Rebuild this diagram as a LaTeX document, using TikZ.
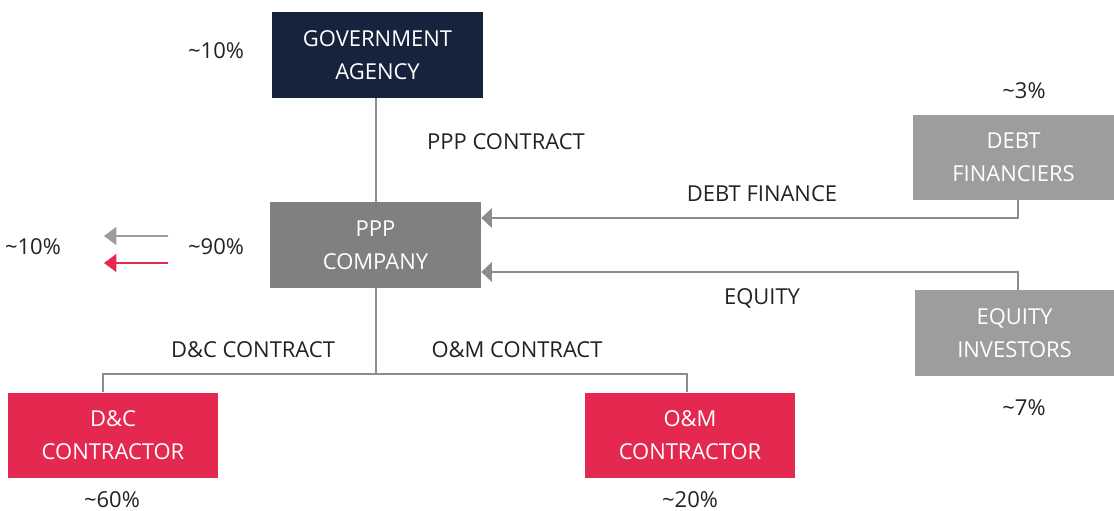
\documentclass[tikz,border=0pt]{standalone}
\usepackage{fontspec}
\setmainfont{Open Sans}
\usetikzlibrary{arrows.meta}

\definecolor{navy}{HTML}{15233D}
\definecolor{midgray}{HTML}{808080}
\definecolor{lightgray}{HTML}{9D9D9D}
\definecolor{crimson}{HTML}{E5284F}
\definecolor{linegray}{HTML}{8C8C8C}
\definecolor{textgray}{HTML}{222222}

\tikzset{
    box/.style={minimum width=4.22cm, minimum height=1.72cm, align=center,
        text=white, inner sep=0pt, font=\fontsize{12.5}{18.7}\selectfont},
    lbl/.style={text=textgray, font=\fontsize{12.5}{14}\selectfont},
    link/.style={draw=linegray, line width=1.4pt},
    flow/.style={draw=linegray, line width=1.6pt, -{Triangle[length=6pt, width=11pt]}},
}

\begin{document}
\begin{tikzpicture}[x=0.02cm, y=-0.02cm]
    \useasboundingbox (0,0) rectangle (1114,510);

    % Draw nodes
    \node[box, fill=navy] (gov) at (377.5,55) {GOVERNMENT\\AGENCY};
    \node[box, fill=midgray] (ppp) at (375.5,245) {PPP\\COMPANY};
    \node[box, fill=lightgray, minimum width=4.02cm, minimum height=1.7cm] (debt) at (1013.5,157.5) {DEBT\\FINANCIERS};
    \node[box, fill=lightgray, minimum width=3.98cm, minimum height=1.72cm] (equity) at (1014.5,333) {EQUITY\\INVESTORS};
    \node[box, fill=crimson] (dc) at (113,435.5) {D\&C\\CONTRACTOR};
    \node[box, fill=crimson] (om) at (690,435.5) {O\&M\\CONTRACTOR};

    % Draw connections
    \draw[link] (gov.south -| 376,0) -- (ppp.north -| 376,0);
    \draw[flow] (debt.south -| 1018,0) |- (ppp.east |- 0,218);
    \draw[flow] (equity.north -| 1018,0) |- (ppp.east |- 0,272);
    \coordinate (split) at (376,374);
    \draw[link] (ppp.south -| split) -- (split);
    \draw[link] (dc.north -| 103,0) |- (split) -| (om.north -| 687,0);

    % Left legend arrows
    \coordinate (g1) at (168,236);
    \coordinate (g2) at (104,236);
    \coordinate (r1) at (168,263);
    \coordinate (r2) at (104,263);
    \draw[draw=lightgray, line width=1.5pt, -{Triangle[length=7pt, width=10pt]}] (g1) -- (g2);
    \draw[draw=crimson, line width=1.5pt, -{Triangle[length=7pt, width=10pt]}] (r1) -- (r2);

    % Labels
    \node[lbl] (govpct) at (216,51) {\textasciitilde10\%};
    \node[lbl] (pppc) at (506,142) {PPP CONTRACT};
    \node[lbl] (debtpct) at (1024,91) {\textasciitilde3\%};
    \node[lbl] (debtfin) at (762,194) {DEBT FINANCE};
    \node[lbl] (leftpct) at (33,247) {\textasciitilde10\%};
    \node[lbl] (ppppct) at (216,247) {\textasciitilde90\%};
    \node[lbl] (eq) at (762,298) {EQUITY};
    \node[lbl] (dcc) at (253,350) {D\&C CONTRACT};
    \node[lbl] (omc) at (517,350) {O\&M CONTRACT};
    \node[lbl] (eqpct) at (1024,408) {\textasciitilde7\%};
    \node[lbl] (dcpct) at (112,500) {\textasciitilde60\%};
    \node[lbl] (ompct) at (690,500) {\textasciitilde20\%};
\end{tikzpicture}
\end{document}
